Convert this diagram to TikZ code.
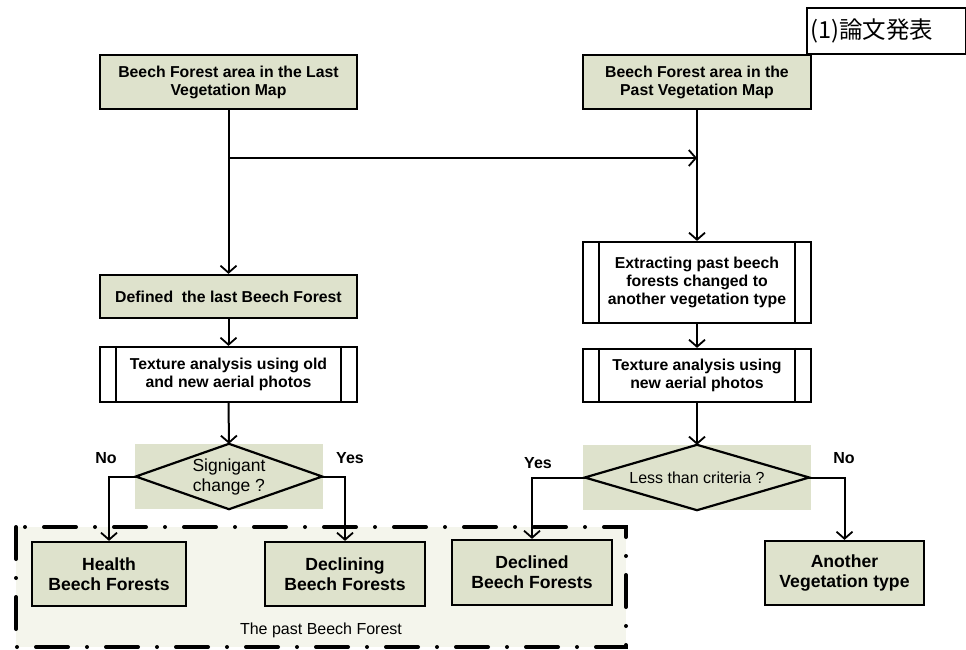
\documentclass[tikz,border=0pt]{standalone}
\usepackage{fontspec}
\setmainfont{Liberation Sans}
\newfontfamily\cjk{Noto Sans CJK JP}
\usetikzlibrary{arrows.meta,calc}
\definecolor{boxfill}{HTML}{DEE2CC}
\definecolor{regfill}{HTML}{F4F5EC}
\tikzset{
  every picture/.style={x=1pt,y=-1pt},
  procbox/.style={draw=black,line width=2.2pt,fill=boxfill,align=center,inner sep=0pt,font=\fontsize{15.8}{18}\selectfont\bfseries},
  bigbox/.style={draw=black,line width=2.2pt,fill=boxfill,align=center,inner sep=0pt,font=\fontsize{17.6}{20}\selectfont\bfseries},
  subbox/.style={draw=black,line width=2.2pt,fill=white,align=center,inner sep=0pt,font=\fontsize{15.8}{18}\selectfont\bfseries},
  diabg/.style={fill=boxfill,draw=none,inner sep=0pt,align=center},
  conn/.style={line width=2pt,-{Straight Barb[length=7pt,width=16pt,line width=1.8pt]}},
  lbl/.style={font=\fontsize{16}{18}\selectfont\bfseries,inner sep=0pt},
}
\begin{document}
\begin{tikzpicture}
\useasboundingbox (0,0) rectangle (966,650);
% region
\fill[regfill] (16,527) rectangle (626,647);
\draw[line width=4pt,line cap=round,dash pattern=on 32pt off 19pt on 0pt off 19pt] (16,527) rectangle (626,647);
\node[font=\fontsize{16}{18}\selectfont,inner sep=0pt] (reglbl) at (321,630) {The past Beech Forest};
% title
\node[draw=black,line width=2.2pt,fill=white,minimum width=159pt,minimum height=46pt,inner sep=3pt,anchor=north west,text width=153pt,align=left,font=\cjk\fontsize{23.5}{26}\selectfont] (title) at (806,7) {(1)論文発表};
% boxes
\node[procbox,minimum width=257pt,minimum height=54pt] (b1) at (228.5,82) {Beech Forest area in the Last\\Vegetation Map};
\node[procbox,minimum width=228pt,minimum height=54pt] (b2) at (697,82) {Beech Forest area in the\\Past Vegetation Map};
\node[procbox,minimum width=257pt,minimum height=43pt] (def) at (228.5,296.5) {Defined\ \ the last Beech Forest};
\node[subbox,minimum width=228pt,minimum height=81pt] (ext) at (697,282.5) {Extracting past beech\\forests changed to\\another vegetation type};
\node[subbox,minimum width=257pt,minimum height=55pt] (texl) at (228.5,374.5) {Texture analysis using old\\and new aerial photos};
\node[subbox,minimum width=228pt,minimum height=53pt] (texr) at (697,375.5) {Texture analysis using\\new aerial photos};
\foreach \n in {ext,texl,texr}{
  \draw[line width=1.6pt] ($(\n.north west)+(17,0)$) -- ($(\n.south west)+(17,0)$);
  \draw[line width=1.6pt] ($(\n.north east)+(-17,0)$) -- ($(\n.south east)+(-17,0)$);
}
% diamonds
\node[diabg,minimum width=188pt,minimum height=65pt,font=\fontsize{17.5}{20}\selectfont] (dl) at (229,476.5) {Signigant\\change ?};
\draw[line width=2.2pt] (dl.north) -- ($(dl.east)+(-1,0)$) -- (dl.south) -- ($(dl.west)+(1,0)$) -- cycle;
\node[diabg,minimum width=228pt,minimum height=65pt,font=\fontsize{16}{18}\selectfont] (dr) at (697,477.5) {Less than criteria ?};
\draw[line width=2.2pt] (dr.north) -- ($(dr.east)+(-2,0)$) -- (dr.south) -- ($(dr.west)+(2,0)$) -- cycle;
% outcome boxes
\node[bigbox,minimum width=154pt,minimum height=64pt] (hea) at (109,574) {Health\\Beech Forests};
\node[bigbox,minimum width=160pt,minimum height=64pt] (dcl) at (345,574) {Declining\\Beech Forests};
\node[bigbox,minimum width=160pt,minimum height=65pt] (dcd) at (532,572.5) {Declined\\Beech Forests};
\node[bigbox,minimum width=159pt,minimum height=64pt] (ano) at (844.5,573) {Another\\Vegetation type};
% connectors
\coordinate (br) at (229,158);
\coordinate (brend) at (697,158);
\draw[conn] (b1.south) -- (def.north);
\draw[conn] (br) -- (brend);
\draw[conn] (b2.south) -- (ext.north);
\draw[conn] (def.south) -- (texl.north);
\draw[conn] (texl.south) -- (dl.north);
\draw[conn] (ext.south) -- (texr.north);
\draw[conn] (texr.south) -- (dr.north);
\draw[conn] ($(dl.west)+(1,0)$) -| (hea.north);
\draw[conn] ($(dl.east)+(-1,0)$) -| (dcl.north);
\draw[conn] ($(dr.west)+(2,0)$) -| (dcd.north);
\draw[conn] ($(dr.east)+(-2,0)$) -| (ano.north);
% labels
\node[lbl] (no1) at (106,458) {No};
\node[lbl] (yes1) at (350,458) {Yes};
\node[lbl] (yes2) at (538,463) {Yes};
\node[lbl] (no2) at (844,458) {No};
\end{tikzpicture}
\end{document}
